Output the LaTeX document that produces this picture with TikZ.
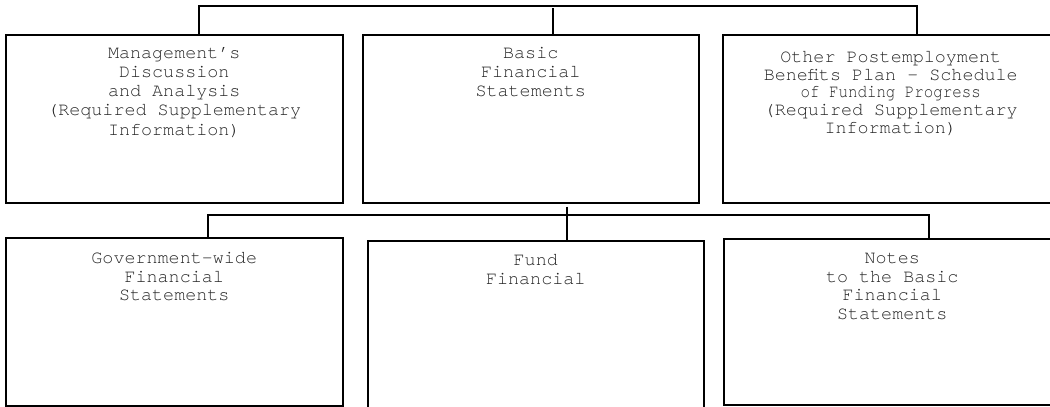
\documentclass[tikz,border=0pt]{standalone}
\usepackage{fontspec}
\setmonofont{TeX Gyre Cursor}
\usetikzlibrary{positioning}

\begin{document}
\begin{tikzpicture}[x=1pt,y=-1pt,
    font=\ttfamily\fontsize{18.4}{19.2}\selectfont,
    panel/.style={draw, line width=1.5pt, rectangle, inner sep=0pt, anchor=north west,
        minimum width=337pt, minimum height=168pt},
    caption/.style={align=center, inner sep=0pt, anchor=north, text=black!85},
    link/.style={line width=1.5pt}]
    \path[use as bounding box, clip] (0,0) rectangle (1050,407);

    % top row
    \node [panel] (mda) at (5,34) {};
    \node [panel, minimum width=336pt] (bfs) at (362,34) {};
    \node [panel, minimum width=336pt] (opeb) at (722,34) {};
    \node [caption, below=13pt of mda.north] (mdatext) {Management’s\\Discussion\\and Analysis\\(Required Supplementary\\Information)};
    \node [caption, below=13pt of bfs.north] (bfstext) {Basic\\Financial\\Statements};
    \node [caption, below=17pt of opeb.north, font=\ttfamily\fontsize{18.4}{17.8}\selectfont] (opebtext) {Other Postemployment\\Benefits Plan – Schedule\\\scalebox{0.86}[1]{of Funding Progress}\\(Required Supplementary\\Information)};

    % bottom row
    \node [panel] (gwfs) at (5,237) {};
    \node [panel, minimum width=336pt, minimum height=172pt] (fund) at (367,240) {};
    \node [panel, minimum height=166pt] (notes) at (723,238) {};
    \node [caption, below=15pt of gwfs.north, font=\ttfamily\fontsize{18.4}{18.7}\selectfont] (gwfstext) {Government-wide\\Financial\\Statements};
    \node [caption, below=14pt of fund.north, font=\ttfamily\fontsize{18.4}{18.7}\selectfont] (fundtext) {Fund\\Financial};
    \node [caption, below=15pt of notes.north, font=\ttfamily\fontsize{18.4}{18.7}\selectfont] (notestext) {Notes\\to the Basic\\Financial\\Statements};

    % connectors
    \draw [link] ([xshift=24.5pt]mda.north) -- ++(0,-28) -| ([xshift=26pt]opeb.north);
    \draw [link] ([xshift=22pt]bfs.north) -- ++(0,-26);
    \draw [link] ([xshift=33.5pt]gwfs.north) -- ++(0,-22) -| ([xshift=36.5pt]notes.north);
    \draw [link] ([xshift=36pt,yshift=-3pt]bfs.south) -- ([xshift=31pt]fund.north);
\end{tikzpicture}
\end{document}
